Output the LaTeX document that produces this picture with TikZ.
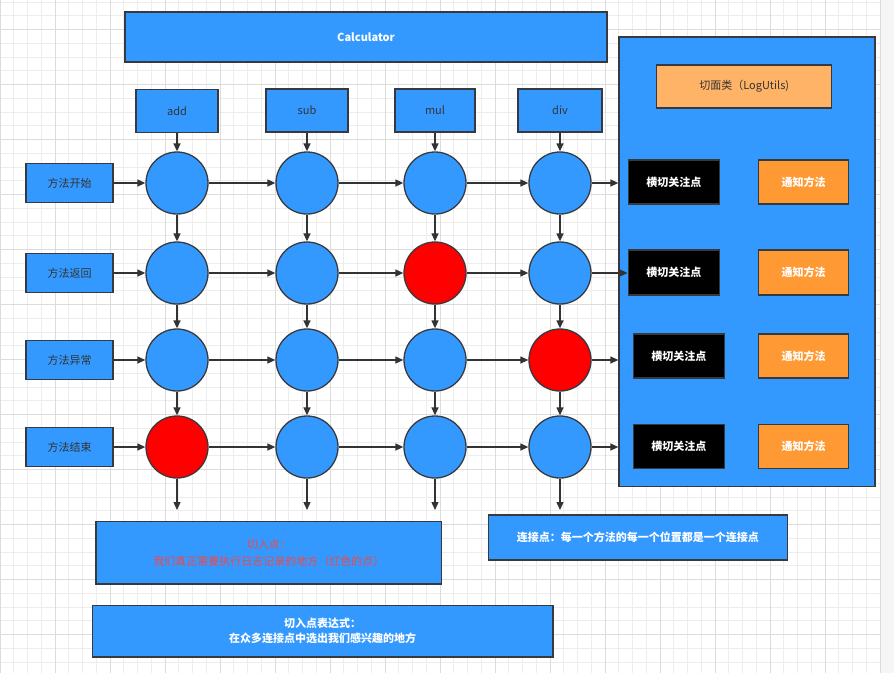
\documentclass[tikz,border=0pt]{standalone}
\usepackage{fontspec}
\setmainfont{Noto Sans CJK SC}
\usetikzlibrary{arrows.meta}
\definecolor{bl}{HTML}{3399FF}
\definecolor{rd}{HTML}{FF0000}
\definecolor{dk}{HTML}{333333}
\definecolor{edge}{HTML}{36393D}
\definecolor{lor}{HTML}{FFB366}
\definecolor{dor}{HTML}{FF9933}
\definecolor{redtxt}{HTML}{F04848}
\definecolor{gminor}{HTML}{EDEDED}
\definecolor{gmajor}{HTML}{DCDCDC}
\tikzset{
  box/.style={draw=edge, line width=1.3pt, fill=bl, rectangle, inner sep=0pt, text=dk, font=\fontsize{11}{13}\selectfont},
  wbox/.style={box, text=white, font=\fontsize{11}{13}\selectfont\bfseries},
  blk/.style={box, fill=black, text=white, font=\fontsize{11}{13}\selectfont\bfseries, minimum width=91pt, minimum height=44pt},
  nbox/.style={box, fill=dor, text=white, font=\fontsize{11}{13}\selectfont\bfseries, minimum width=90.5pt, minimum height=44pt},
  pt/.style={circle, draw=edge, line width=1.3pt, fill=bl, minimum size=62pt, inner sep=0pt},
  hot/.style={pt, fill=rd},
  lbox/.style={box, minimum width=87pt, minimum height=39pt},
  mbox/.style={box, minimum width=82pt, minimum height=43pt},
  arr/.style={draw=dk, line width=1.3pt, -{Triangle[length=8pt,width=7pt]}}
}
\begin{document}
\begin{tikzpicture}[x=1pt,y=-1pt]
\useasboundingbox (0,0) rectangle (894,673);
\fill[white] (0,0) rectangle (894,673);
\fill[gray!8] (880,0) rectangle (894,673);
% grid
\foreach \i in {0,...,64} {\draw[gminor, line width=0.8pt] (\i*13.75,0) -- (\i*13.75,673);}
\foreach \j in {0,...,48} {\draw[gminor, line width=0.8pt] (0,2+\j*13.75) -- (880,2+\j*13.75);}
\foreach \i in {0,...,16} {\draw[gmajor, line width=0.8pt] (\i*55,0) -- (\i*55,673);}
\foreach \j in {0,...,11} {\draw[gmajor, line width=0.8pt] (0,29.5+\j*55) -- (880,29.5+\j*55);}

% top
\node[wbox, minimum width=482pt, minimum height=50pt] (calc) at (366,37) {Calculator};
\node[mbox] (add) at (177,111) {add};
\node[mbox] (sub) at (307,110.5) {sub};
\node[mbox, minimum width=80pt] (mul) at (435,110.5) {mul};
\node[mbox, minimum width=84pt] (div) at (560,110.5) {div};

% left labels
\node[lbox] (l1) at (69.5,183) {方法开始};
\node[lbox] (l2) at (69.5,273) {方法返回};
\node[lbox] (l3) at (69.5,360) {方法异常};
\node[lbox] (l4) at (69.5,447) {方法结束};

% circles
\node[pt] (c11) at (177,183) {};
\node[pt] (c12) at (307,183) {};
\node[pt] (c13) at (435,183) {};
\node[pt] (c14) at (560,183) {};
\node[pt] (c21) at (177,273) {};
\node[pt] (c22) at (307,273) {};
\node[hot] (c23) at (435,273) {};
\node[pt] (c24) at (560,273) {};
\node[pt] (c31) at (177,360) {};
\node[pt] (c32) at (307,360) {};
\node[pt] (c33) at (435,360) {};
\node[hot] (c34) at (560,360) {};
\node[hot] (c41) at (177,447) {};
\node[pt] (c42) at (307,447) {};
\node[pt] (c43) at (435,447) {};
\node[pt] (c44) at (560,447) {};

% right container
\node[box, minimum width=256pt, minimum height=449.5pt] (ct) at (747,261.75) {};
\node[box, fill=lor, minimum width=175pt, minimum height=43pt] (aspect) at (744.2,86.5) {切面类（LogUtils)};
\node[blk] (b1) at (673.8,182) {横切关注点};
\node[blk, minimum height=45pt] (b2) at (673.8,272.5) {横切关注点};
\node[blk] (b3) at (678.8,356) {横切关注点};
\node[blk] (b4) at (678.8,446.3) {横切关注点};
\node[nbox] (o1) at (803.5,182) {通知方法};
\node[nbox, minimum height=45pt] (o2) at (803.5,272.5) {通知方法};
\node[nbox] (o3) at (803.5,356) {通知方法};
\node[nbox] (o4) at (803.5,446.3) {通知方法};

% bottom boxes
\node[box, minimum width=345.7pt, minimum height=62.3pt, text=redtxt, align=center, font=\fontsize{11}{16.5}\selectfont] (cut) at (268.8,552.8) {切入点：\\我们真正需要执行日志记录的地方（红色的点）};
\node[wbox, minimum width=460.7pt, minimum height=51.7pt, align=center, font=\fontsize{11}{14.5}\selectfont\bfseries] (expr) at (322.6,631) {切入点表达式：\\在众多连接点中选出我们感兴趣的地方};
\node[wbox, minimum width=299pt, minimum height=45pt] (join) at (637.8,537.5) {连接点：每一个方法的每一个位置都是一个连接点};

% end coordinates
\coordinate (e1) at (177,510);
\coordinate (e2) at (307,510);
\coordinate (e3) at (435,510);
\coordinate (e4) at (560,510);

% vertical arrows
\draw[arr] (add) -- (c11);
\draw[arr] (sub) -- (c12);
\draw[arr] (mul) -- (c13);
\draw[arr] (div) -- (c14);
\foreach \c in {1,2,3,4} {
  \draw[arr] (c1\c) -- (c2\c);
  \draw[arr] (c2\c) -- (c3\c);
  \draw[arr] (c3\c) -- (c4\c);
  \draw[arr] (c4\c.south) -- (e\c);
}
% horizontal arrows
\foreach \r in {1,2,3,4} {
  \draw[arr] (l\r) -- (c\r1);
  \draw[arr] (c\r1) -- (c\r2);
  \draw[arr] (c\r2) -- (c\r3);
  \draw[arr] (c\r3) -- (c\r4);
}
\draw[arr] (c14.east) -- (c14.east -| ct.west);
\draw[arr] (c24.east) -- (c24.east -| b2.west);
\draw[arr] (c34.east) -- (c34.east -| ct.west);
\draw[arr] (c44.east) -- (c44.east -| ct.west);
\end{tikzpicture}
\end{document}
